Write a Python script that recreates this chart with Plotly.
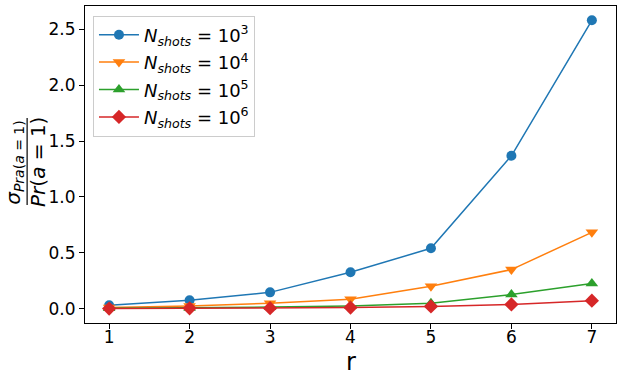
import plotly.graph_objects as go

r = [1, 2, 3, 4, 5, 6, 7]
sig_1e3 = [0.03, 0.075, 0.146, 0.326, 0.54, 1.368, 2.58]
sig_1e4 = [0.01, 0.025, 0.048, 0.084, 0.2, 0.35, 0.683]
sig_1e5 = [0.003, 0.007, 0.015, 0.025, 0.048, 0.126, 0.225]
sig_1e6 = [0.001, 0.003, 0.005, 0.01, 0.02, 0.038, 0.072]
labels = ["<i>N</i><sub><i>shots</i></sub> = 10<sup>%d</sup>" % k for k in (3, 4, 5, 6)]

colors = ["#1f77b4", "#ff7f0e", "#2ca02c", "#d62728"]
symbols = ["circle", "triangle-down", "triangle-up", "diamond"]
sizes = [10, 11, 11, 11]

fig = go.Figure()
for i, (ys, name, c, s, sz) in enumerate(zip([sig_1e3, sig_1e4, sig_1e5, sig_1e6], labels, colors, symbols, sizes)):
    fig.add_trace(go.Scatter(x=r, y=ys, mode="lines+markers", name=name,
                             legendgroup="g%d" % i,
                             line=dict(color=c, width=1.5),
                             marker=dict(symbol=s, size=sz, color=c)))

axis_style = dict(showline=True, linecolor="black", linewidth=1, mirror=True,
                  ticks="outside", ticklen=5, tickcolor="black",
                  showgrid=False, zeroline=False, automargin=False,
                  tickfont=dict(size=17, color="black"))

fig.update_layout(
    width=623, height=377,
    margin=dict(l=85, r=7, t=6, b=54),
    plot_bgcolor="white", paper_bgcolor="white",
    font=dict(family="DejaVu Sans", color="black"),
    xaxis=dict(range=[0.7, 7.3], tickvals=r, ticklabelstandoff=-6, **axis_style),
    yaxis=dict(range=[-0.128, 2.708], tickvals=[0, 0.5, 1.0, 1.5, 2.0, 2.5],
               ticktext=["0.0", "0.5", "1.0", "1.5", "2.0", "2.5"], **axis_style),
    legend=dict(x=0.015, y=0.97, xanchor="left", yanchor="top",
                bgcolor="rgba(255,255,255,0.8)", bordercolor="#cccccc", borderwidth=1,
                font=dict(size=18), tracegroupgap=1, itemwidth=40),
    showlegend=True,
)

# x axis title
fig.add_annotation(text="r", xref="paper", yref="paper", x=0.5, y=-0.122,
                   xanchor="center", yanchor="middle", showarrow=False,
                   font=dict(size=24))

# fraction-style y axis label
fig.add_annotation(text="<i>σ</i><sub><i>Pra</i>(<i>a</i> = 1)</sub>", textangle=-90,
                   xref="paper", yref="paper", x=-0.134, y=0.508,
                   xanchor="center", yanchor="middle", showarrow=False,
                   font=dict(size=20))
fig.add_annotation(text="<i>Pr</i>(<i>a</i> = 1)", textangle=-90,
                   xref="paper", yref="paper", x=-0.0885, y=0.508,
                   xanchor="center", yanchor="middle", showarrow=False,
                   font=dict(size=20))
fig.add_shape(type="line", xref="paper", yref="paper",
              x0=-0.109, x1=-0.109, y0=0.372, y1=0.647,
              line=dict(color="black", width=1.2))

fig.write_html("out.html", config={"displayModeBar": False},
               post_script="document.body.style.margin='0';")
